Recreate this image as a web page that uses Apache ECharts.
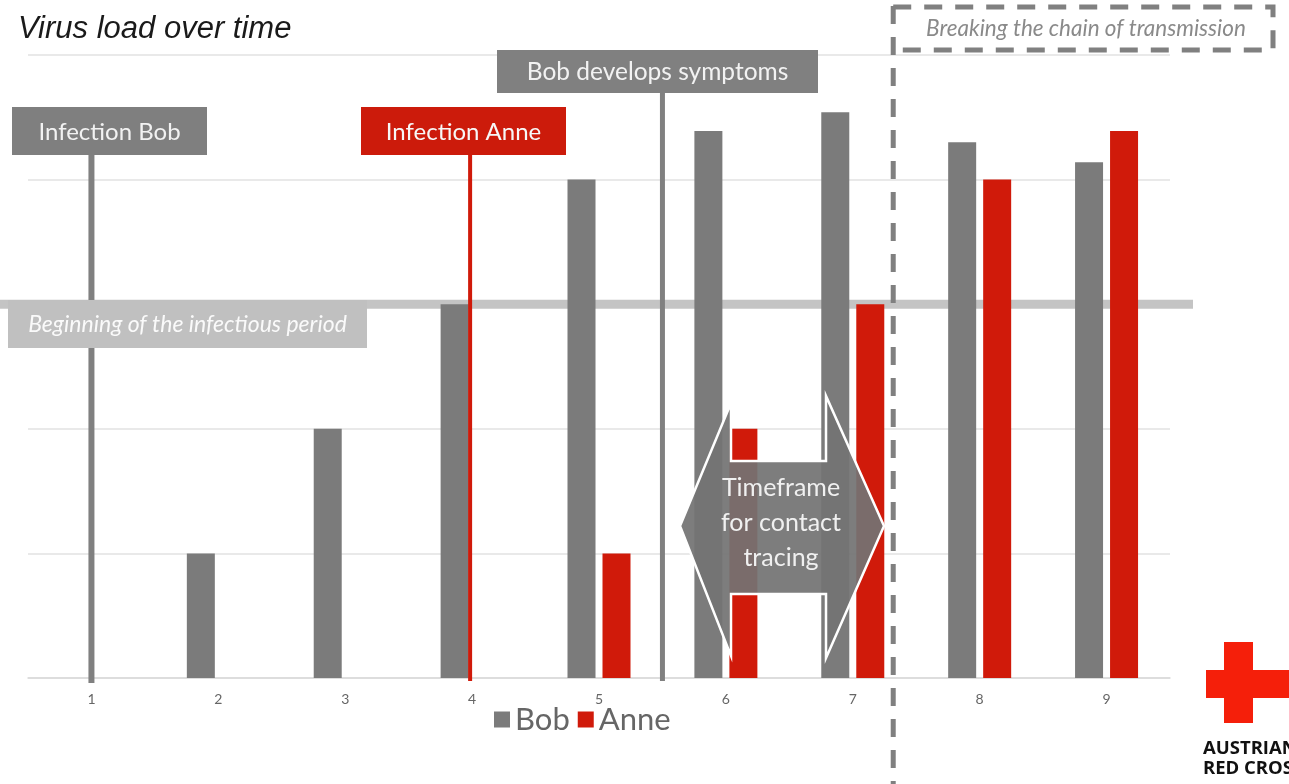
<!DOCTYPE html>
<html>
<head>
<meta charset="utf-8">
<script src="https://cdn.jsdelivr.net/npm/echarts@6/dist/echarts.min.js"></script>
<style>
html,body{margin:0;padding:0;background:#fff;}
#chart{width:1289px;height:784px;}
</style>
</head>
<body>
<div id="chart"></div>
<script>
// ---- data ----
const categories = ['1','2','3','4','5','6','7','8','9'];
const bobValues  = [null, 1, 2, 3, 4, 4.39, 4.54, 4.3, 4.14];
const anneValues = [null, null, null, null, 1, 2, 3, 4, 4.39];
const seriesNames = ['Bob', 'Anne'];
const infectiousLevel = 3;
const bobInfectionDay = '1';
const anneInfectionDay = '4';
const symptomsBetween = ['5', '6'];
const breakingBetween = ['7', '8'];

const GRAY = '#7b7b7b';
const RED = '#d01a0a';
const FONT = 'Lato, "Open Sans", sans-serif';

const chart = echarts.init(document.getElementById('chart'), null, {renderer: 'canvas'});

const option = {
  animation: false,
  backgroundColor: '#ffffff',
  grid: {left: 28, right: 119, top: 55, bottom: 106, containLabel: false},
  legend: {
    data: seriesNames,
    left: 489, top: 699,
    icon: 'rect', itemWidth: 16, itemHeight: 16, itemGap: 8,
    textStyle: {fontSize: 31, color: '#666666', fontFamily: FONT}
  },
  xAxis: {
    type: 'category', data: categories,
    axisLine: {lineStyle: {color: '#d9d9d9', width: 1.5}},
    axisTick: {show: false},
    axisLabel: {color: '#666666', fontSize: 14, margin: 14, fontFamily: FONT}
  },
  yAxis: {
    type: 'value', min: 0, max: 5, interval: 1,
    axisLabel: {show: false}, axisLine: {show: false}, axisTick: {show: false},
    splitLine: {lineStyle: {color: '#e2e2e2', width: 1.5}}
  },
  series: [
    {name: 'Bob', type: 'bar', data: bobValues, barWidth: 28, barGap: '25%', itemStyle: {color: GRAY}},
    {name: 'Anne', type: 'bar', data: anneValues, barWidth: 28, itemStyle: {color: RED}}
  ]
};
chart.setOption(option);

const px = c => chart.convertToPixel({xAxisIndex: 0}, c);
const py = v => chart.convertToPixel({yAxisIndex: 0}, v);
const y0 = py(0);
const yInf = py(infectiousLevel);
const xBob = px(bobInfectionDay);
const xAnne = px(anneInfectionDay);
const xSym = (px(symptomsBetween[0]) + px(symptomsBetween[1])) / 2;
const xBreak = (px(breakingBetween[0]) + px(breakingBetween[1])) / 2 - 23;

function label(x, y, w, h, fill, text, size, italic, color, z) {
  return [
    {type: 'rect', z: z, shape: {x: x, y: y, width: w, height: h}, style: {fill: fill}},
    {type: 'text', z: z + 1, style: {text: text, x: x + w / 2, y: y + h / 2 + 1, align: 'center', verticalAlign: 'middle',
      fill: color, fontSize: size, fontFamily: FONT, fontStyle: italic ? 'italic' : 'normal'}}
  ];
}

const ax = 680, bx = 731, cx = 826, dx = 884, cy = py(1.22);
const graphic = [].concat(
  [{type: 'rect', z: 1, shape: {x: 0, y: yInf - 4.5, width: 1193, height: 9}, style: {fill: '#c4c4c4'}}],
  [{type: 'line', z: 3, shape: {x1: xBob, y1: 150, x2: xBob, y2: y0 + 5}, style: {stroke: '#808080', lineWidth: 6}}],
  [{type: 'line', z: 3, shape: {x1: xAnne - 2, y1: 150, x2: xAnne - 2, y2: y0 + 3}, style: {stroke: RED, lineWidth: 4}}],
  [{type: 'line', z: 3, shape: {x1: xSym, y1: 90, x2: xSym, y2: y0 + 3}, style: {stroke: '#808080', lineWidth: 5}}],
  label(12, 107, 195, 48, '#7f7f7f', 'Infection Bob', 24, false, '#f2f2f2', 5),
  label(361, 107, 205, 48, '#cc1b0b', 'Infection Anne', 24, false, '#f7f7f7', 5),
  label(497, 50, 321, 43, '#808080', 'Bob develops symptoms', 24.5, false, '#f2f2f2', 5),
  label(8, 300, 359, 48, '#c0c0c0', 'Beginning of the infectious period', 23, true, '#fafafa', 5),
  [{type: 'polygon', z: 8, shape: {points: [[ax, cy], [bx, cy - 123], [bx, cy - 65], [cx, cy - 65], [cx, cy - 130], [dx, cy], [cx, cy + 132], [cx, cy + 68], [bx, cy + 68], [bx, cy + 130]]},
    style: {fill: 'rgba(115,115,115,0.93)', stroke: '#ffffff', lineWidth: 2.5}},
   {type: 'text', z: 9, style: {text: 'Timeframe\nfor contact\ntracing', x: 781, y: cy - 3, align: 'center', verticalAlign: 'middle', lineHeight: 35,
    fill: '#f0f0f0', fontSize: 25, fontFamily: FONT}}],
  [{type: 'line', z: 6, shape: {x1: xBreak, y1: 6, x2: xBreak, y2: 784}, style: {stroke: '#808080', lineWidth: 5, lineDash: [18, 13]}},
   {type: 'polyline', z: 6, shape: {points: [[xBreak, 7], [1273, 7], [1273, 50], [xBreak, 50]]}, style: {stroke: '#808080', fill: null, lineWidth: 5, lineDash: [18, 13]}},
   {type: 'text', z: 6, style: {text: 'Breaking the chain of transmission', x: 1086, y: 29, align: 'center', verticalAlign: 'middle',
    fill: '#8a8a8a', fontSize: 22.5, fontStyle: 'italic', fontFamily: FONT}}],
  [{type: 'text', z: 6, style: {text: 'Virus load over time', x: 18, y: 29, align: 'left', verticalAlign: 'middle',
    fill: '#1a1a1a', fontSize: 31, fontStyle: 'italic', fontFamily: '"Liberation Sans", Arial, sans-serif'}}],
  [{type: 'rect', z: 6, shape: {x: 1224, y: 642, width: 29, height: 81}, style: {fill: '#f51f0a'}},
   {type: 'rect', z: 6, shape: {x: 1206, y: 670, width: 83, height: 28}, style: {fill: '#f51f0a'}},
   {type: 'text', z: 6, style: {text: 'AUSTRIAN\nRED CROSS', x: 1203, y: 739, align: 'left', verticalAlign: 'top', lineHeight: 20,
    fill: '#111111', fontSize: 18.5, fontWeight: 'bold', fontFamily: '"Open Sans", sans-serif'}}]
);
chart.setOption({graphic: graphic});
</script>
</body>
</html>
